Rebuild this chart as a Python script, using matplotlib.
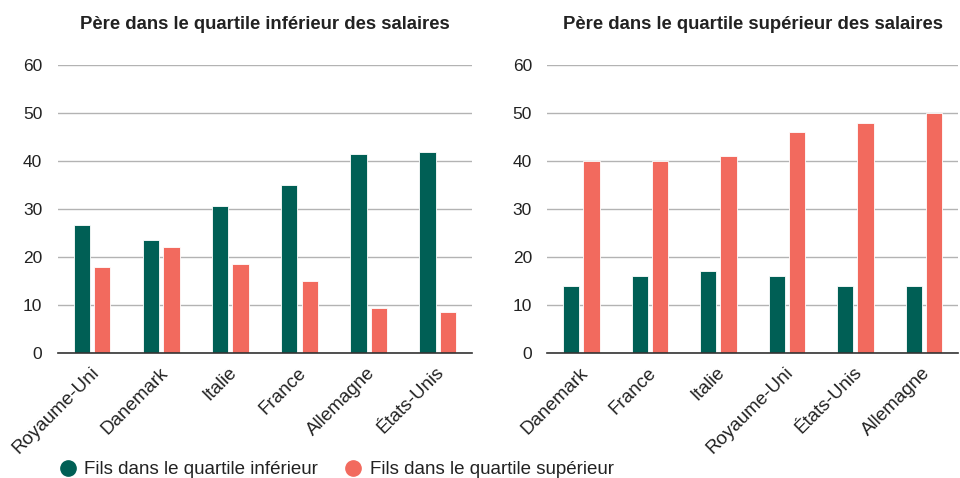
import matplotlib
matplotlib.use("Agg")
import matplotlib.pyplot as plt
import matplotlib.transforms as mtransforms
from matplotlib.lines import Line2D
import numpy as np

plt.rcParams['font.family'] = ['Liberation Sans', 'DejaVu Sans']

left_title = "Père dans le quartile inférieur des salaires"
right_title = "Père dans le quartile supérieur des salaires"
series_names = ["Fils dans le quartile inférieur", "Fils dans le quartile supérieur"]

left_cats = ["Royaume-Uni", "Danemark", "Italie", "France", "Allemagne", "États-Unis"]
left_low = [26.7, 23.5, 30.7, 35.1, 41.5, 41.8]
left_high = [18.0, 22.0, 18.5, 14.9, 9.3, 8.5]

right_cats = ["Danemark", "France", "Italie", "Royaume-Uni", "États-Unis", "Allemagne"]
right_low = [14, 16, 17, 16, 14, 14]
right_high = [40, 40, 41, 46, 48, 50]

yticks = [0, 10, 20, 30, 40, 50, 60]

GREEN = "#005f55"
RED = "#f26a5e"

fig = plt.figure(figsize=(9.6, 4.78), dpi=100)
ax1 = fig.add_axes([0.060, 0.2615, 0.432, 0.6025])
ax2 = fig.add_axes([0.570, 0.2615, 0.428, 0.6025])

def draw(ax, cats, low, high, title):
    x = np.arange(len(cats))
    w = 0.235
    g = 0.03
    ax.bar(x - w/2 - g, low, width=w, color=GREEN, edgecolor="white", linewidth=0.6, zorder=3)
    ax.bar(x + w/2 + g, high, width=w, color=RED, edgecolor="white", linewidth=0.6, zorder=3)
    ax.set_xlim(-0.5, len(cats) - 0.5)
    ax.set_ylim(0, 60)
    ax.set_yticks(yticks)
    ax.set_yticklabels([str(t) for t in yticks], fontsize=12.5, color="#222222")
    ax.yaxis.grid(True, color="#b3b3b3", linewidth=1.0, zorder=0)
    ax.set_axisbelow(True)
    for s in ["top", "right", "left"]:
        ax.spines[s].set_visible(False)
    ax.spines["bottom"].set_color("#333333")
    ax.spines["bottom"].set_linewidth(1.2)
    ax.spines["bottom"].set_zorder(4)
    ax.tick_params(axis="y", length=0, pad=11)
    ax.tick_params(axis="x", length=0, pad=8)
    ax.set_xticks(x)
    ax.set_xticklabels(cats, rotation=45, ha="right", va="top", rotation_mode="anchor",
                       fontsize=13.5, color="#222222")
    off = mtransforms.ScaledTranslation(-2/100, 0, fig.dpi_scale_trans)
    for lab in ax.get_xticklabels():
        lab.set_transform(lab.get_transform() + off)
    ax.set_title(title, fontsize=13.3, fontweight="bold", color="#222222", pad=26)

draw(ax1, left_cats, left_low, left_high, left_title)
draw(ax2, right_cats, right_low, right_high, right_title)

handles = [Line2D([0], [0], marker="o", linestyle="none", markersize=11,
                  markerfacecolor=c, markeredgecolor=c) for c in (GREEN, RED)]
fig.legend(handles, series_names, loc="lower left", bbox_to_anchor=(0.043, -0.036),
           ncol=2, frameon=False, fontsize=13.5, handlelength=1.0, handletextpad=0.4,
           columnspacing=1.37, labelcolor="#222222")

fig.savefig("out.png", dpi=100)
